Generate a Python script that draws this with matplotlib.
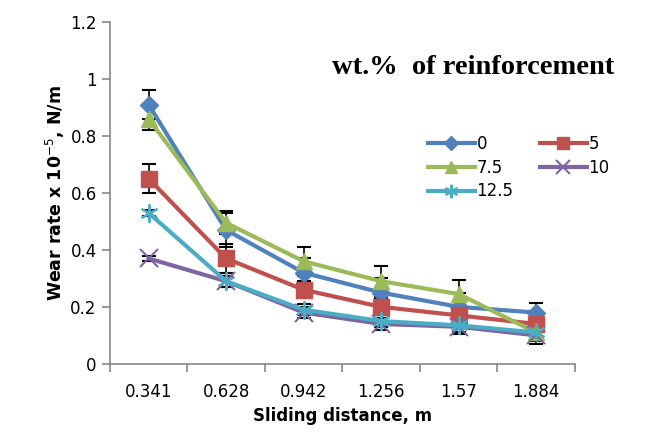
import matplotlib.pyplot as plt
import numpy as np

distance = ["0.341", "0.628", "0.942", "1.256", "1.57", "1.884"]
wt_labels = ["0", "5", "7.5", "10", "12.5"]
wear_0 = [0.91, 0.47, 0.32, 0.25, 0.20, 0.18]
wear_5 = [0.65, 0.37, 0.26, 0.20, 0.17, 0.14]
wear_75 = [0.86, 0.495, 0.36, 0.29, 0.245, 0.11]
wear_10 = [0.37, 0.29, 0.18, 0.14, 0.13, 0.10]
wear_125 = [0.53, 0.29, 0.19, 0.15, 0.135, 0.11]
err_0 = [0.05, 0.06, 0.05, 0.05, 0.05, 0.035]
err_5 = [0.05, 0.05, 0.03, 0.03, 0.03, 0.03]
err_75 = [0.04, 0.04, 0.05, 0.055, 0.05, 0.04]
err_10 = [0.01, 0.02, 0.02, 0.02, 0.02, 0.02]
err_125 = [0.01, 0.02, 0.02, 0.02, 0.03, 0.02]

series = [wear_0, wear_5, wear_75, wear_10, wear_125]
errors = [err_0, err_5, err_75, err_10, err_125]
colors = ["#4F81BD", "#C0504D", "#9BBB59", "#8064A2", "#4BACC6"]
markers = ["D", "s", "^", "x", (6, 2, 0)]
msizes = [9, 12, 11, 13, 13]

fig = plt.figure(figsize=(6.46, 4.41), dpi=100)
ax = fig.add_axes([0.170, 0.175, 0.72, 0.775])
x = np.arange(len(distance))

for vals, err in zip(series, errors):
    ax.errorbar(x, vals, yerr=err, fmt="none", ecolor="black", elinewidth=1.2,
                capsize=5, capthick=1.5, zorder=2)
lines = []
for vals, c, m, ms, lab in zip(series, colors, markers, msizes, wt_labels):
    if m in ("D", "s", "^"):
        ln, = ax.plot(x, vals, color=c, lw=3, marker=m, ms=ms, mec=c, label=lab, zorder=3)
    else:
        ln, = ax.plot(x, vals, color=c, lw=3, marker=m, ms=ms, mew=1.5, label=lab, zorder=3)
    lines.append(ln)

ax.set_xlim(-0.5, 5.5)
ax.set_ylim(0, 1.2)
ax.set_yticks(np.arange(0, 1.21, 0.2))
ax.set_yticklabels(["0", "0.2", "0.4", "0.6", "0.8", "1", "1.2"])
ax.set_xticks(x)
ax.set_xticklabels(distance)
ax.set_xticks(np.arange(-0.5, 6.0, 1), minor=True)
ax.tick_params(axis="x", which="major", length=0, pad=14, labelsize=12)
ax.tick_params(axis="x", which="minor", length=6, color="#888888", width=1.2)
ax.tick_params(axis="y", length=6, color="#888888", width=1.2, labelsize=12)
for s in ["top", "right"]:
    ax.spines[s].set_visible(False)
for s in ["left", "bottom"]:
    ax.spines[s].set_color("#888888")
    ax.spines[s].set_linewidth(1.2)

ax.set_xlabel("Sliding distance, m", fontsize=12, fontweight="bold", labelpad=4)
ax.set_ylabel("Wear rate x 10$^{-5}$, N/m", fontsize=12.5, fontweight="bold", labelpad=2)

fig.text(0.732, 0.846, "wt.%  of reinforcement", fontsize=20.5, fontweight="bold",
         family="Liberation Serif", ha="center", va="center")

# row-wise order: 0, 5 / 7.5, 10 / 12.5
order = [0, 2, 4, 1, 3]
ax.legend([lines[i] for i in order], [wt_labels[i] for i in order], ncol=2,
          loc="upper left", bbox_to_anchor=(0.67, 0.69),
          frameon=False, fontsize=12, handlelength=2.8, handletextpad=0.1,
          columnspacing=1.6, labelspacing=0.35, borderaxespad=0, markerscale=0.75)

fig.savefig("out.png", dpi=100)
